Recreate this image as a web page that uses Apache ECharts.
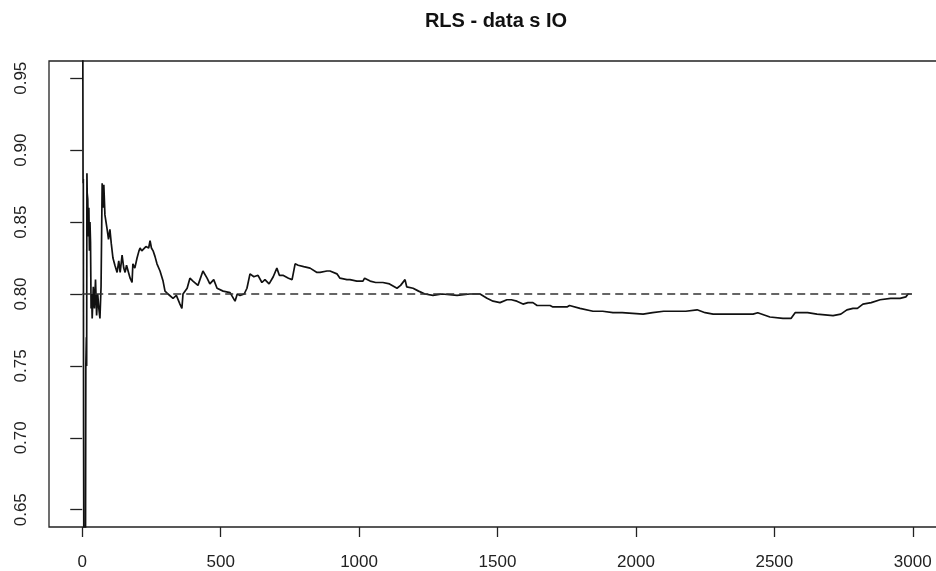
<!DOCTYPE html>
<html>
<head>
<meta charset="utf-8">
<script src="https://cdn.jsdelivr.net/npm/echarts@6/dist/echarts.min.js"></script>
<style>
html,body{margin:0;padding:0;background:#fff;overflow:hidden;}
#chart{width:980px;height:571px;}
</style>
</head>
<body>
<div id="chart"></div>
<script>
// ---- data ----
const titleText = 'RLS - data s IO';
const xTickValues = [0, 500, 1000, 1500, 2000, 2500, 3000];
const yTickValues = [0.65, 0.70, 0.75, 0.80, 0.85, 0.90, 0.95];

const iterations = [1,2,3,4,5,6,8,10,12,13,14,15,16,17,18,20,22,24,26,28,30,32,34,36,40,44,48,52,56,60,64,68,72,75,78,82,86,90,95,100,105,111,118,126,132,137,144,150,155,160,166,173,180,183,190,198,205,209,215,220,230,240,245,250,256,263,270,281,292,299,310,317,328,340,353,360,364,379,389,400,418,436,451,461,475,487,509,534,552,560,570,585,595,606,620,635,649,660,675,690,703,712,725,745,758,769,780,800,823,848,859,884,895,920,931,956,967,992,1014,1020,1040,1060,1086,1110,1137,1150,1166,1172,1195,1215,1238,1267,1300,1354,1400,1437,1462,1484,1509,1534,1550,1570,1592,1610,1628,1643,1653,1690,1700,1751,1760,1798,1845,1880,1917,1950,2026,2060,2100,2134,2180,2221,2250,2279,2350,2423,2440,2484,2531,2560,2575,2620,2654,2712,2740,2762,2784,2800,2820,2850,2882,2920,2954,2975,2983,2997];
const estimate = [1.05,0.99,0.877,0.88,0.70,0.60,0.62,0.60,0.64,0.75,0.76,0.77,0.75,0.884,0.87,0.866,0.84,0.86,0.83,0.85,0.836,0.79,0.80,0.783,0.805,0.79,0.81,0.785,0.80,0.79,0.783,0.805,0.877,0.86,0.876,0.855,0.85,0.845,0.838,0.845,0.835,0.825,0.82,0.815,0.823,0.815,0.827,0.818,0.815,0.82,0.82,0.811,0.808,0.821,0.818,0.825,0.83,0.832,0.83,0.83,0.833,0.832,0.837,0.832,0.83,0.826,0.821,0.816,0.809,0.802,0.80,0.80,0.797,0.799,0.793,0.79,0.80,0.804,0.811,0.809,0.806,0.816,0.811,0.807,0.81,0.804,0.802,0.801,0.795,0.80,0.799,0.80,0.804,0.814,0.812,0.813,0.808,0.81,0.807,0.812,0.818,0.813,0.813,0.811,0.81,0.821,0.82,0.819,0.818,0.815,0.815,0.816,0.816,0.814,0.811,0.81,0.81,0.809,0.809,0.811,0.809,0.808,0.808,0.807,0.804,0.806,0.81,0.805,0.804,0.802,0.80,0.799,0.80,0.799,0.80,0.80,0.797,0.795,0.794,0.796,0.796,0.795,0.793,0.794,0.794,0.792,0.792,0.792,0.791,0.791,0.792,0.79,0.788,0.788,0.787,0.787,0.786,0.787,0.788,0.788,0.788,0.789,0.787,0.786,0.786,0.786,0.787,0.784,0.783,0.783,0.787,0.787,0.786,0.785,0.786,0.789,0.79,0.79,0.793,0.794,0.796,0.797,0.797,0.798,0.80,0.80];

const refX = [0, 3000];
const refY = [0.8, 0.8];

// ---- build ----
const lineData = iterations.map((x, i) => [x, estimate[i]]);
const refData = refX.map((x, i) => [x, refY[i]]);

const chart = echarts.init(document.getElementById('chart'), null, {renderer: 'canvas'});
const font = 'Liberation Sans, Arial, sans-serif';
chart.setOption({
  animation: false,
  backgroundColor: '#ffffff',
  graphic: [{
    type: 'text',
    x: 496, y: 21,
    style: {
      text: titleText,
      font: 'bold 20px ' + font,
      fill: '#111',
      textAlign: 'center',
      textVerticalAlign: 'middle'
    }
  }],
  grid: {
    left: 49, top: 61, width: 897, height: 467,
    show: true, borderColor: '#222', borderWidth: 1.3, backgroundColor: 'transparent'
  },
  xAxis: {
    type: 'value', min: -120, max: 3120,
    splitLine: {show: false},
    axisLine: {show: false},
    axisTick: {show: true, length: 10, customValues: xTickValues, lineStyle: {color: '#222', width: 1.3}},
    axisLabel: {show: true, customValues: xTickValues, margin: 27, fontSize: 17, fontFamily: font, color: '#222',
      formatter: v => String(v)}
  },
  yAxis: {
    type: 'value', min: 0.638, max: 0.962,
    splitLine: {show: false},
    axisLine: {show: false},
    axisTick: {show: true, length: 12, customValues: yTickValues, lineStyle: {color: '#222', width: 1.3}},
    axisLabel: {show: true, customValues: yTickValues, rotate: 90, margin: 19, fontSize: 17, fontFamily: font, color: '#222',
      formatter: v => v.toFixed(2)}
  },
  series: [
    {
      type: 'line', data: lineData, showSymbol: false, clip: true,
      lineStyle: {color: '#111', width: 1.7}
    },
    {
      type: 'line', data: refData, showSymbol: false, clip: true,
      lineStyle: {color: '#333', width: 1.3, type: [8, 5]}
    }
  ]
});
</script>
</body>
</html>
